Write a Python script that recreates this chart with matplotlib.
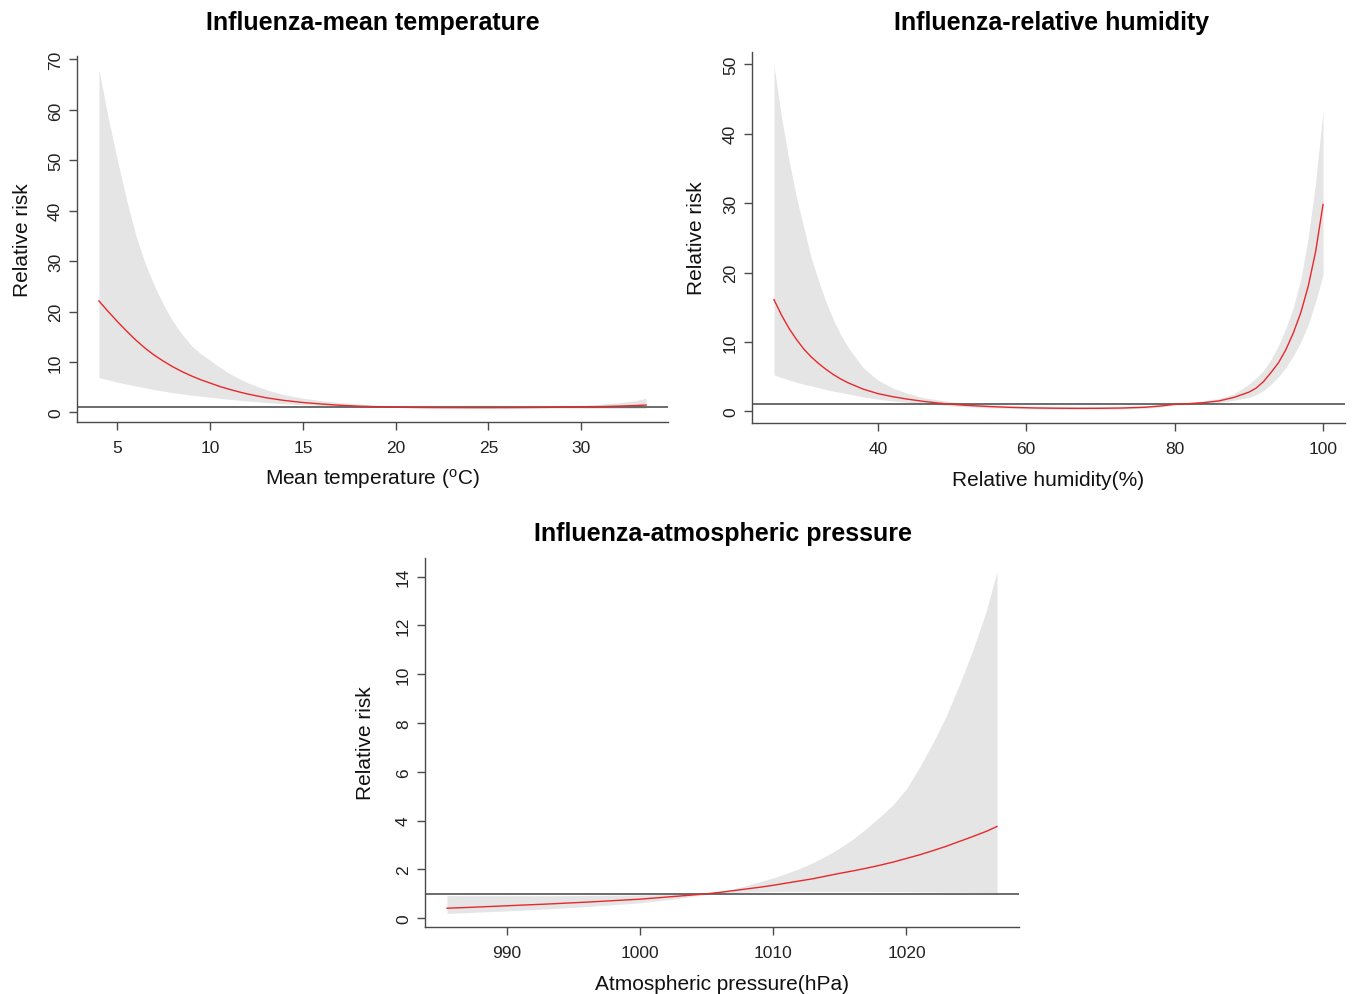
import numpy as np
import matplotlib
matplotlib.use("Agg")
import matplotlib.pyplot as plt

plt.rcParams['font.family'] = ['Liberation Sans', 'DejaVu Sans']
plt.rcParams['mathtext.fontset'] = 'custom'
plt.rcParams['mathtext.rm'] = 'Liberation Sans'

# ---- Panel 1: mean temperature ----
temp_x = [4, 4.5, 5, 5.5, 6, 6.5, 7, 7.5, 8, 8.5, 9, 9.5, 10, 10.5, 11, 11.5, 12, 13, 14, 15,
          16, 17, 18, 19, 20, 21, 22, 23, 24, 25, 26, 27, 28, 29, 30, 31, 32, 33, 33.5]
temp_rr = [22.1, 20.0, 18.0, 16.1, 14.3, 12.7, 11.3, 10.1, 9.0, 8.05, 7.2, 6.45, 5.8, 5.15, 4.6,
           4.1, 3.65, 2.9, 2.35, 1.95, 1.65, 1.4, 1.22, 1.1, 1.02, 0.97, 0.94, 0.93, 0.92, 0.92,
           0.93, 0.95, 0.98, 1.02, 1.07, 1.14, 1.23, 1.36, 1.45]
temp_lo = [6.9, 6.45, 6.0, 5.6, 5.2, 4.85, 4.5, 4.2, 3.9, 3.65, 3.4, 3.2, 3.0, 2.8, 2.6, 2.42,
           2.25, 1.95, 1.7, 1.5, 1.35, 1.22, 1.1, 1.0, 0.93, 0.89, 0.87, 0.86, 0.85, 0.84, 0.83,
           0.82, 0.81, 0.8, 0.79, 0.78, 0.77, 0.77, 0.77]
temp_hi = [68.0, 58.5, 50.0, 42.0, 35.0, 29.5, 25.0, 21.2, 18.0, 15.4, 13.2, 11.6, 10.3, 9.0, 7.8,
           6.8, 5.9, 4.5, 3.5, 2.8, 2.3, 1.95, 1.65, 1.42, 1.25, 1.14, 1.07, 1.03, 1.01, 1.01,
           1.03, 1.08, 1.15, 1.25, 1.4, 1.6, 1.9, 2.35, 2.8]

# ---- Panel 2: relative humidity ----
rh_x = [26, 27, 28, 29, 30, 31, 32, 33, 34, 35, 36, 38, 40, 42, 44, 46, 48, 50, 52, 55, 58, 61,
        64, 67, 70, 73, 76, 78, 80, 82, 84, 86, 88, 90, 91, 92, 93, 94, 95, 96, 97, 98, 99, 100]
rh_rr = [16.1, 13.9, 12.0, 10.4, 9.0, 7.85, 6.9, 6.05, 5.3, 4.65, 4.1, 3.2, 2.55, 2.1, 1.75, 1.45,
         1.2, 1.0, 0.85, 0.68, 0.56, 0.48, 0.44, 0.42, 0.43, 0.47, 0.58, 0.75, 1.0, 1.1, 1.25, 1.5,
         2.0, 2.75, 3.35, 4.3, 5.6, 7.0, 8.9, 11.3, 14.2, 18.0, 23.0, 29.8]
rh_lo = [5.25, 4.85, 4.5, 4.2, 3.9, 3.65, 3.4, 3.15, 2.9, 2.7, 2.5, 2.05, 1.75, 1.5, 1.28, 1.1,
         0.95, 0.78, 0.65, 0.5, 0.4, 0.33, 0.3, 0.29, 0.3, 0.33, 0.42, 0.6, 0.9, 0.98, 1.08, 1.25,
         1.6, 2.0, 2.4, 3.0, 3.9, 5.0, 6.3, 8.0, 10.0, 12.5, 15.8, 19.7]
rh_hi = [49.8, 42.5, 36.3, 31.0, 26.5, 22.2, 18.8, 15.8, 13.2, 11.0, 9.2, 6.3, 4.5, 3.35, 2.6, 2.0,
         1.65, 1.35, 1.15, 0.95, 0.82, 0.74, 0.7, 0.68, 0.69, 0.72, 0.8, 0.92, 1.12, 1.3, 1.5, 1.85,
         2.5, 3.9, 4.8, 5.9, 7.5, 9.5, 12.0, 15.0, 19.0, 25.0, 33.0, 43.3]

# ---- Panel 3: atmospheric pressure ----
ap_x = [985.5, 987, 990, 993, 996, 1000, 1003, 1005, 1006, 1007, 1008, 1009, 1010, 1011, 1012,
        1013, 1014, 1015, 1016, 1017, 1018, 1019, 1020, 1021, 1022, 1023, 1024, 1025, 1026, 1026.8]
ap_rr = [0.41, 0.44, 0.51, 0.58, 0.66, 0.78, 0.91, 1.0, 1.06, 1.13, 1.2, 1.27, 1.35, 1.44, 1.53,
         1.62, 1.73, 1.84, 1.94, 2.05, 2.17, 2.3, 2.45, 2.6, 2.77, 2.95, 3.15, 3.35, 3.56, 3.76]
ap_lo = [0.2, 0.23, 0.3, 0.38, 0.48, 0.63, 0.82, 0.98, 1.02, 1.05, 1.07, 1.08, 1.09, 1.1, 1.1,
         1.1, 1.1, 1.1, 1.1, 1.1, 1.09, 1.09, 1.09, 1.08, 1.08, 1.07, 1.07, 1.06, 1.06, 1.05]
ap_hi = [0.93, 0.92, 0.92, 0.92, 0.93, 0.95, 0.98, 1.03, 1.1, 1.2, 1.34, 1.5, 1.65, 1.84, 2.04,
         2.28, 2.56, 2.88, 3.25, 3.68, 4.15, 4.65, 5.3, 6.2, 7.2, 8.3, 9.6, 11.0, 12.6, 14.2]

W, H = 1354, 995
fig = plt.figure(figsize=(W / 100, H / 100), dpi=100)

def px_axes(left, top, right, bottom):
    return fig.add_axes([left / W, 1 - bottom / H, (right - left) / W, (bottom - top) / H])

BAND = '#e5e5e5'
RED = '#e8282b'
SPINE = '#4a4a4a'

def panel(ax, x, rr, lo, hi, xticks, yticks, xlabel, ylabel_x):
    x = np.asarray(x, float)
    ax.fill_between(x, lo, hi, color=BAND, lw=0, zorder=1)
    ax.plot(x, rr, color=RED, lw=1.0, zorder=3, solid_joinstyle='round')
    ax.margins(x=0.04, y=0.04)
    ax.axhline(1, color='#444444', lw=1.1, zorder=2)
    for s in ['top', 'right']:
        ax.spines[s].set_visible(False)
    for s in ['left', 'bottom']:
        ax.spines[s].set_color(SPINE)
        ax.spines[s].set_linewidth(1.0)
    ax.set_xticks(xticks)
    ax.set_yticks(yticks)
    ax.tick_params(axis='both', direction='out', length=6, width=1.0, color=SPINE,
                   labelsize=12.5, labelcolor='#222222')
    ax.tick_params(axis='x', pad=7)
    ax.tick_params(axis='y', pad=4)
    for lab in ax.get_yticklabels():
        lab.set_rotation(90)
        lab.set_va('center')
    ax.set_xlabel(xlabel, fontsize=15, color='#111111')
    ax.xaxis.set_label_coords(0.5, -0.153)
    ax.xaxis.label.set_va('center')
    ax.set_ylabel('Relative risk', fontsize=15, color='#111111')
    ax.yaxis.set_label_coords(ylabel_x, 0.5)
    ax.yaxis.label.set_va('center')

ax1 = px_axes(77, 57, 668, 423)
panel(ax1, temp_x, temp_rr, temp_lo, temp_hi, [5, 10, 15, 20, 25, 30], list(range(0, 71, 10)),
      r'Mean temperature ($\mathregular{^o}$C)', -0.093)

ax2 = px_axes(752, 53, 1345, 424)
panel(ax2, rh_x, rh_rr, rh_lo, rh_hi, [40, 60, 80, 100], list(range(0, 51, 10)),
      'Relative humidity(%)', -0.094)

ax3 = px_axes(425, 559, 1019, 928)
panel(ax3, ap_x, ap_rr, ap_lo, ap_hi, [990, 1000, 1010, 1020], list(range(0, 15, 2)),
      'Atmospheric pressure(hPa)', -0.101)

fig.text(373 / W, 1 - 23 / H, 'Influenza-mean temperature', fontsize=18, fontweight='bold',
         ha='center', va='center')
fig.text(1052 / W, 1 - 23 / H, 'Influenza-relative humidity', fontsize=18, fontweight='bold',
         ha='center', va='center')
fig.text(723 / W, 1 - 534 / H, 'Influenza-atmospheric pressure', fontsize=18, fontweight='bold',
         ha='center', va='center')

fig.savefig('out.png', dpi=100)
